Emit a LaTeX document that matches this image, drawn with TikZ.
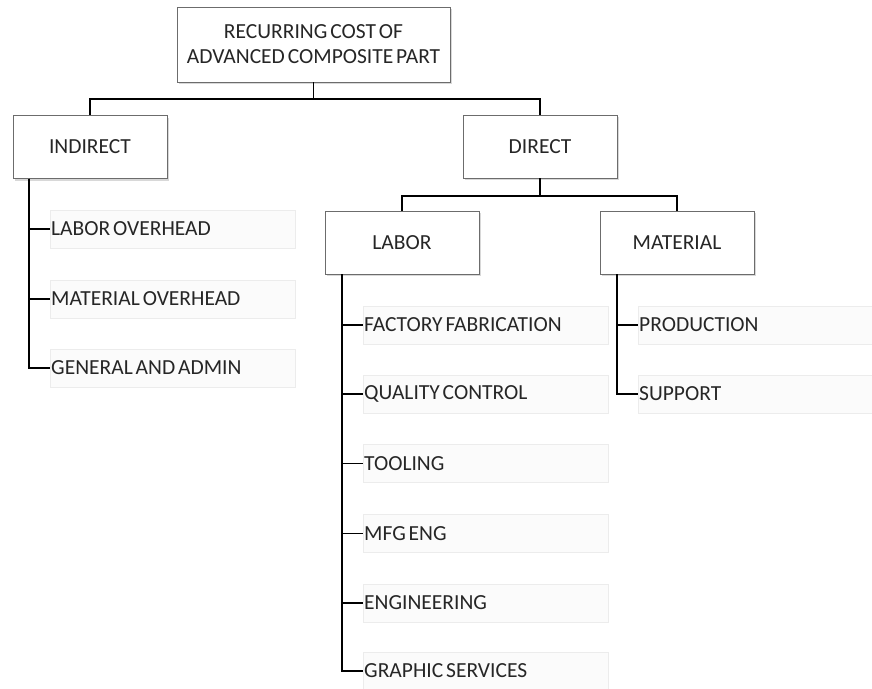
\documentclass[tikz,border=0pt]{standalone}
\usepackage{fontspec}
\setmainfont{Carlito}[WordSpace=0.6]
\usetikzlibrary{shadows}

\tikzset{
  catbox/.style={draw=gray!85!black, fill=white, minimum width=154pt, minimum height=63pt,
    align=center, drop shadow={shadow xshift=1.5pt, shadow yshift=-2pt, opacity=0.3, fill=gray}},
  itembox/.style={draw=gray!15, fill=gray!3, anchor=west, minimum height=38pt,
    inner xsep=1pt, text width=243pt, align=left},
  link/.style={line width=1.7pt}
}
\newcommand{\itemtext}[1]{\spaceskip=0pt\relax #1}

\begin{document}
\begin{tikzpicture}[x=1pt, y=-1pt, font=\fontsize{21.5}{24}\selectfont, text=black!85]
  \useasboundingbox[fill=white] (0,0) rectangle (872,688);

  % category boxes
  \node[catbox, minimum width=273pt, minimum height=75pt, font=\fontsize{21.5}{25}\selectfont]
    (cost) at (313.5,44.5) {RECURRING COST OF\\ADVANCED COMPOSITE PART};
  \node[catbox] (indirect) at (90,147) {INDIRECT};
  \node[catbox] (direct) at (540,146.5) {DIRECT};
  \node[catbox] (labor) at (402,242.5) {LABOR};
  \node[catbox] (material) at (677,242.5) {MATERIAL};

  \draw[link] (cost.south) -- ++(0,17) -| (indirect.north);
  \draw[link] (cost.south) -- ++(0,17) -| (direct.north);
  \draw[link] (direct.south) -- ++(0,18) -| (labor.north);
  \draw[link] (direct.south) -- ++(0,18) -| (material.north);

  % cost items
  \foreach \name/\y/\txt in {lovh/229/LABOR OVERHEAD, movh/299/MATERIAL OVERHEAD, gadm/368/GENERAL AND ADMIN} {
    \node[itembox] (\name) at (50,\y) {\itemtext{\txt}};
    \draw[link] ([xshift=16pt]indirect.south west) |- (\name.west);
  }
  \foreach \name/\y/\txt in {fab/325/FACTORY FABRICATION, qc/394/QUALITY CONTROL, tool/463.5/TOOLING,
      mfg/533.5/MFG ENG, eng/603/ENGINEERING, graph/671/GRAPHIC SERVICES} {
    \node[itembox] (\name) at (363,\y) {\itemtext{\txt}};
    \draw[link] ([xshift=17pt]labor.south west) |- (\name.west);
  }
  \foreach \name/\y/\txt in {prod/325/PRODUCTION, supp/394/SUPPORT} {
    \node[itembox, text width=232pt] (\name) at (638,\y) {\itemtext{\txt}};
    \draw[link] ([xshift=17pt]material.south west) |- (\name.west);
  }
\end{tikzpicture}
\end{document}
